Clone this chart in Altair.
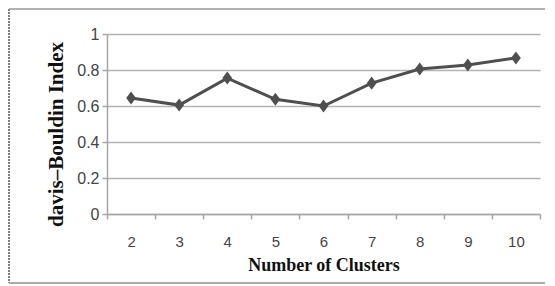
import altair as alt
import pandas as pd

clusters = ["2", "3", "4", "5", "6", "7", "8", "9", "10"]
db_index = [0.645, 0.605, 0.755, 0.637, 0.600, 0.727, 0.805, 0.828, 0.867]
y_ticks = [0, 0.2, 0.4, 0.6, 0.8, 1]

df = pd.DataFrame({"k": clusters, "v": db_index})

x_enc = alt.X(
    "k:N", sort=clusters,
    scale=alt.Scale(paddingInner=0, paddingOuter=0),
    axis=alt.Axis(
        title="Number of Clusters", labelAngle=0, tickBand="extent",
        domainColor="#a6a6a6", domainWidth=1.5, tickColor="#a6a6a6", tickWidth=1.5,
        tickSize=5, labelPadding=15, labelFont="Liberation Sans", labelFontSize=15,
        labelColor="#444444", titleFont="Liberation Serif", titleFontSize=18,
        titleFontWeight="bold", titleColor="#111111", titlePadding=7, grid=False,
    ),
)
y_enc = alt.Y(
    "v:Q", scale=alt.Scale(domain=[0, 1], nice=False),
    axis=alt.Axis(
        title="davis–Bouldin Index", values=y_ticks, format="~g", labelOverlap=False,
        domainColor="#a6a6a6", domainWidth=1.5, tickColor="#a6a6a6", tickWidth=1.5,
        tickSize=5, labelPadding=3, labelFont="Liberation Sans", labelFontSize=16,
        labelColor="#444444", titleFont="Liberation Serif", titleFontSize=21,
        titleFontWeight="bold", titleColor="#111111", titlePadding=10, titleY=100,
        grid=True, gridColor="#b4b4b4", gridWidth=1.5,
    ),
)

line = alt.Chart(df).mark_line(color="#4f4f4f", strokeWidth=3).encode(x=x_enc, y=y_enc)
pts = alt.Chart(df).mark_point(
    shape="M-0.75,0L0,-1L0.75,0L0,1Z", size=170, filled=True, opacity=1, color="#4f4f4f"
).encode(x=x_enc, y=y_enc)

border = pd.DataFrame({"a": [0]})
left = alt.Chart(border).mark_rule(color="#555555", strokeWidth=1.5, strokeDash=[2, 1]).encode(
    x=alt.value(-98), y=alt.value(-25), y2=alt.value(249))
top = alt.Chart(border).mark_rule(color="#999999", strokeWidth=1.5).encode(
    x=alt.value(-98), x2=alt.value(440), y=alt.value(-25))
bottom = alt.Chart(border).mark_rule(color="#aaaaaa", strokeWidth=2).encode(
    x=alt.value(-98), x2=alt.value(440), y=alt.value(249))

chart = alt.layer(line, pts, left, top, bottom).properties(
    width=433, height=180,
    autosize=alt.AutoSizeParams(type="none"),
    padding={"left": 99, "top": 26, "right": 5, "bottom": 70},
    background="white",
).configure_view(stroke=None)

chart.save("out.html", embed_options={"renderer": "svg", "actions": False})
